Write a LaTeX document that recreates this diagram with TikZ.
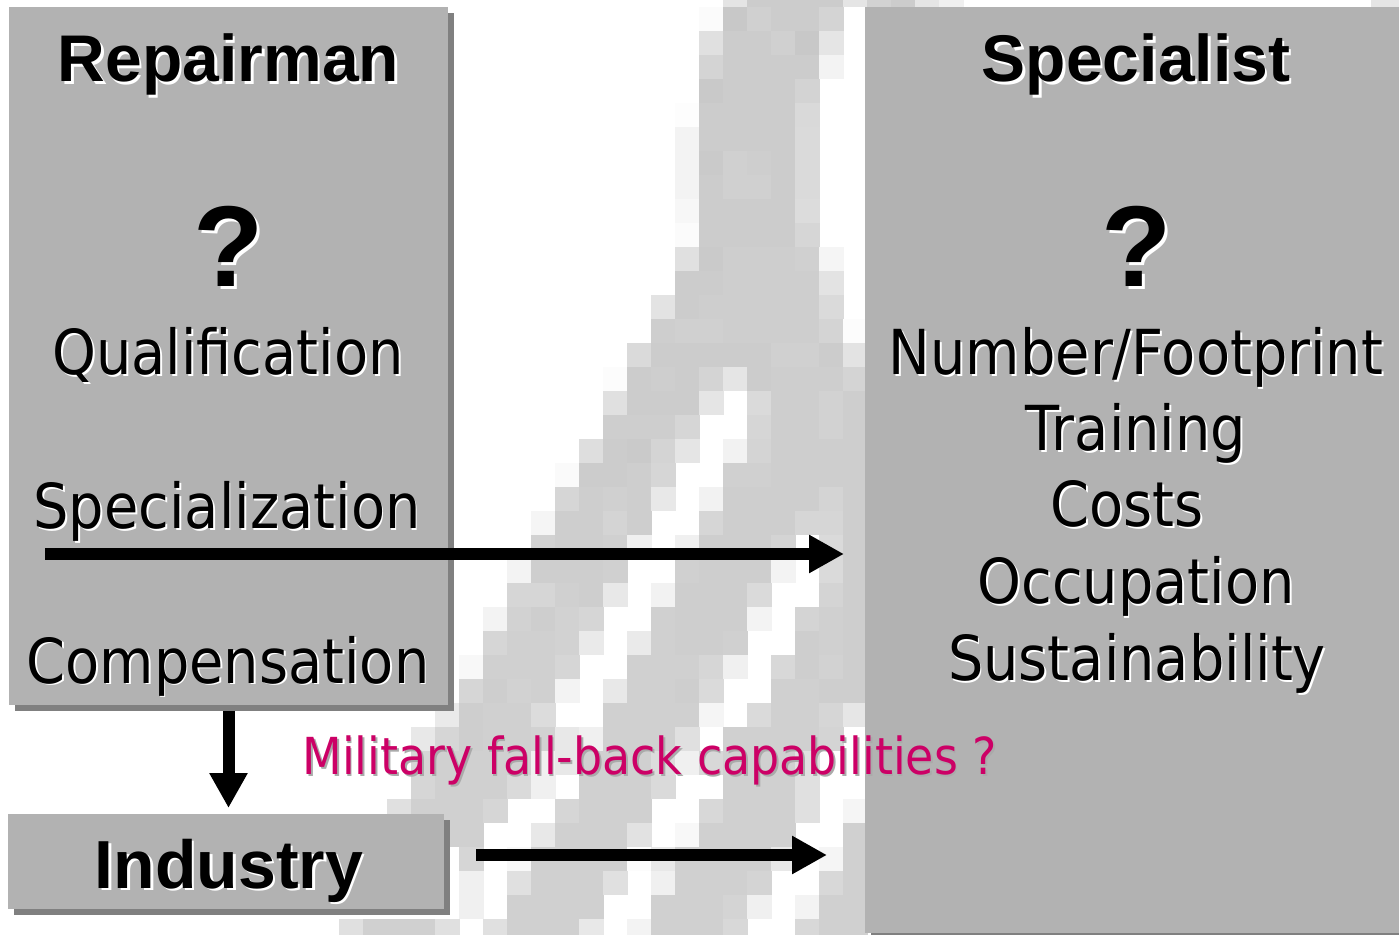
\documentclass[tikz,border=0pt]{standalone}
\usepackage{fontspec}
\setmainfont{DejaVu Sans}
\newfontfamily\arialf{Liberation Sans}
\usetikzlibrary{arrows.meta}
\definecolor{boxgray}{RGB}{178,178,178}
\definecolor{shadowgray}{RGB}{128,128,128}
\definecolor{mag}{RGB}{204,0,102}
\definecolor{magshadow}{RGB}{170,170,170}
\newcommand\shtxt[3]{\makebox[0pt][l]{\hspace{#3}\raisebox{-#3}{\color{#1}#2}}#2}
\newcommand\cellrow[2]{\foreach \c/\v in {#2}{\definecolor{cc}{RGB}{\v,\v,\v}\fill[cc] ({3.3+24*\c},{6.7+24*#1}) rectangle ++(24.4,24.4);}}
\begin{document}
\begin{tikzpicture}[x=0.5pt,y=-0.5pt,
  boxfill/.style={fill=boxgray},
  boxshadow/.style={fill=shadowgray},
  boxnode/.style={rectangle, inner sep=0, outer sep=0},
  title/.style={anchor=base, inner sep=0, font=\arialf\bfseries\fontsize{33}{33}\selectfont},
  qmark/.style={anchor=base, inner sep=0, font=\arialf\bfseries\fontsize{57.5}{57.5}\selectfont},
  body/.style={anchor=base, inner sep=0, font=\fontsize{31}{31}\selectfont},
  note/.style={anchor=base west, inner sep=0, text=mag, font=\fontsize{25.5}{25.5}\selectfont},
  bigarrow/.style={line width=6pt, -{Triangle[length=17.5pt,width=18pt]}}]
\useasboundingbox (0,0) rectangle (1399,935);
\clip (0,0) rectangle (1399,935);
\fill[white] (0,0) rectangle (1399,935);
% pixelated background
\cellrow{-1}{30/228,31/204,32/204,33/204,34/204,35/229,36/210,37/204,38/229,39/240,57/229,58/229}
\cellrow{0}{29/251,30/200,31/208,32/204,33/204,34/212}
\cellrow{1}{29/224,30/204,31/204,32/208,33/200,34/229}
\cellrow{2}{29/212,30/204,31/204,32/204,33/204,34/243}
\cellrow{3}{29/201,30/204,31/204,32/204,33/211}
\cellrow{4}{28/253,29/204,30/204,31/204,32/204,33/217}
\cellrow{5}{28/243,29/204,30/204,31/204,32/204,33/218}
\cellrow{6}{28/243,29/202,30/208,31/206,32/204,33/218}
\cellrow{7}{28/243,29/204,30/208,31/208,32/204,33/218}
\cellrow{8}{28/247,29/204,30/204,31/204,32/204,33/220}
\cellrow{9}{28/251,29/204,30/204,31/204,32/204,33/214}
\cellrow{10}{28/224,29/202,30/206,31/206,32/206,33/208,34/245}
\cellrow{11}{28/204,29/204,30/206,31/206,32/206,33/206,34/227}
\cellrow{12}{27/227,28/204,29/206,30/206,31/206,32/206,33/206,34/218}
\cellrow{13}{27/206,28/208,29/208,30/206,31/206,32/206,33/206,34/212,35/252}
\cellrow{14}{26/218,27/204,28/204,29/204,30/204,31/204,32/208,33/208,34/204,35/227}
\cellrow{15}{25/252,26/204,27/206,28/204,29/212,30/229,31/204,32/206,33/206,34/206,35/212}
\cellrow{16}{25/224,26/204,27/204,28/204,29/229,31/218,32/206,33/206,34/210,35/206}
\cellrow{17}{25/206,26/206,27/206,28/214,31/214,32/206,33/206,34/210,35/206}
\cellrow{18}{24/222,25/204,26/202,27/212,28/229,30/242,31/212,32/206,33/206,34/206,35/206}
\cellrow{19}{23/250,24/204,25/204,26/206,27/214,30/208,31/208,32/206,33/206,34/206,35/206}
\cellrow{20}{23/214,24/206,25/208,26/206,27/232,29/242,30/206,31/206,32/206,33/206,34/212,35/206}
\cellrow{21}{22/245,23/206,24/206,25/212,26/206,29/214,30/206,31/206,32/206,33/214,34/214,35/206}
\cellrow{22}{22/210,23/206,24/206,25/208,26/240,28/240,29/206,30/206,31/206,32/212,34/218,35/206}
\cellrow{23}{21/243,22/206,23/206,24/206,25/208,28/208,29/206,30/206,31/206,32/243,34/218,35/206}
\cellrow{24}{21/214,22/214,23/208,24/206,25/232,27/242,28/206,29/206,30/206,31/218,34/212,35/206}
\cellrow{25}{20/243,21/210,22/206,23/210,24/214,27/208,28/206,29/206,30/206,31/243,33/212,34/208,35/206}
\cellrow{26}{20/214,21/208,22/208,23/210,24/234,26/234,27/208,28/206,29/206,30/208,33/206,34/208,35/206}
\cellrow{27}{19/248,20/208,21/208,22/208,23/214,26/208,27/208,28/208,29/214,30/240,32/216,33/206,34/210,35/206}
\cellrow{28}{19/214,20/206,21/210,22/208,23/243,25/232,26/208,27/208,28/206,29/218,32/208,33/208,34/206,35/206}
\cellrow{29}{18/234,19/206,20/208,21/208,22/220,25/208,26/208,27/208,28/208,29/245,31/218,32/208,33/208,34/214,35/230}
\cellrow{30}{17/232,18/214,19/206,20/208,21/208,22/210,23/232,24/240,25/208,26/208,27/208,28/224,30/208,31/208,32/208,33/208,34/212}
\cellrow{31}{17/214,18/208,19/208,20/208,21/208,22/240,23/232,24/208,25/208,26/208,27/220,28/240,29/216,30/208,31/208,32/208,33/224}
\cellrow{32}{17/214,18/208,19/208,20/208,21/218,22/240,24/208,25/208,26/208,27/218,30/208,31/208,32/208,33/224}
\cellrow{33}{16/224,17/208,18/208,19/208,20/214,23/214,24/208,25/208,26/208,29/216,30/208,31/208,32/208,33/224,35/245}
\cellrow{34}{18/208,19/208,22/232,23/208,24/208,25/208,26/226,28/248,29/208,30/208,31/208,32/208,35/208}
\cellrow{35}{19/214,21/248,22/208,23/208,24/208,25/208,26/252,27/232,28/208,29/208,30/208,31/208,32/232,34/245,35/208}
\cellrow{36}{19/240,21/224,22/208,23/208,24/208,25/224,27/240,28/208,29/208,30/208,31/212,34/216,35/208}
\cellrow{37}{19/240,21/208,22/208,23/208,24/208,27/208,28/208,29/208,30/212,31/240,33/243,34/208,35/208}
\cellrow{38}{14/224,15/208,16/208,17/208,18/224,20/224,21/208,22/208,23/208,24/232,26/243,27/208,28/208,29/208,30/216,33/216,34/208,35/208}
% boxes
\path node[boxnode, minimum width=219.5pt, minimum height=349pt] (rep) at (228.5,356) {};
\path node[boxnode, minimum width=218pt, minimum height=47.5pt] (ind) at (226,861.5) {};
\path node[boxnode, minimum width=270pt, minimum height=463pt] (spec) at (1135,470) {};
\foreach \b in {rep,ind,spec}{
  \fill[boxshadow] ([xshift=3pt,yshift=-3pt]\b.north west) rectangle ([xshift=3pt,yshift=-3pt]\b.south east);
  \fill[boxfill] (\b.north west) rectangle (\b.south east);
}
% texts left
\node[title] (tRep) at (228.5,82) {\shtxt{white}{Repairman}{1.2pt}};
\node[qmark] (qRep) at (229,287) {\shtxt{white}{?}{1.5pt}};
\node[body] (tQual) at (228,375) {\scalebox{0.9}[1]{\shtxt{white}{Qualification}{1pt}}};
\node[body] (tSpz) at (227,529) {\scalebox{0.9}[1]{\shtxt{white}{Specialization}{1pt}}};
\node[body] (tComp) at (228,683) {\scalebox{0.9}[1]{\shtxt{white}{Compensation}{1pt}}};
\node[title, font=\arialf\bfseries\fontsize{34}{34}\selectfont] (tInd) at (229,888) {\shtxt{white}{Industry}{1.2pt}};
% texts right
\node[title] (tSpec) at (1136,82) {\shtxt{white}{Specialist}{1.2pt}};
\node[qmark] (qSpec) at (1137,287) {\shtxt{white}{?}{1.5pt}};
\node[body] (tNum) at (1136,375) {\scalebox{0.9}[1]{\shtxt{white}{Number/Footprint}{1pt}}};
\node[body] (tTrain) at (1136,451) {\scalebox{0.9}[1]{\shtxt{white}{Training}{1pt}}};
\node[body] (tCost) at (1127,527) {\scalebox{0.9}[1]{\shtxt{white}{Costs}{1pt}}};
\node[body] (tOcc) at (1136,604) {\scalebox{0.9}[1]{\shtxt{white}{Occupation}{1pt}}};
\node[body] (tSus) at (1137,681) {\scalebox{0.9}[1]{\shtxt{white}{Sustainability}{1pt}}};
% note
\node[note] (tMil) at (302,775) {\scalebox{0.9}[1]{\shtxt{magshadow}{Military fall-back capabilities ?}{1pt}}};
% arrows
\coordinate (a1s) at (45,554);
\coordinate (a2s) at (476,855);
\draw[bigarrow, shorten >=10.5pt] (a1s) -- (spec.west |- a1s);
\draw[bigarrow, shorten >=19pt] (a2s) -- (spec.west |- a2s);
\draw[bigarrow, shorten <=3pt, shorten >=3pt] (rep.south) -- (rep.south |- ind.north);
\end{tikzpicture}
\end{document}
